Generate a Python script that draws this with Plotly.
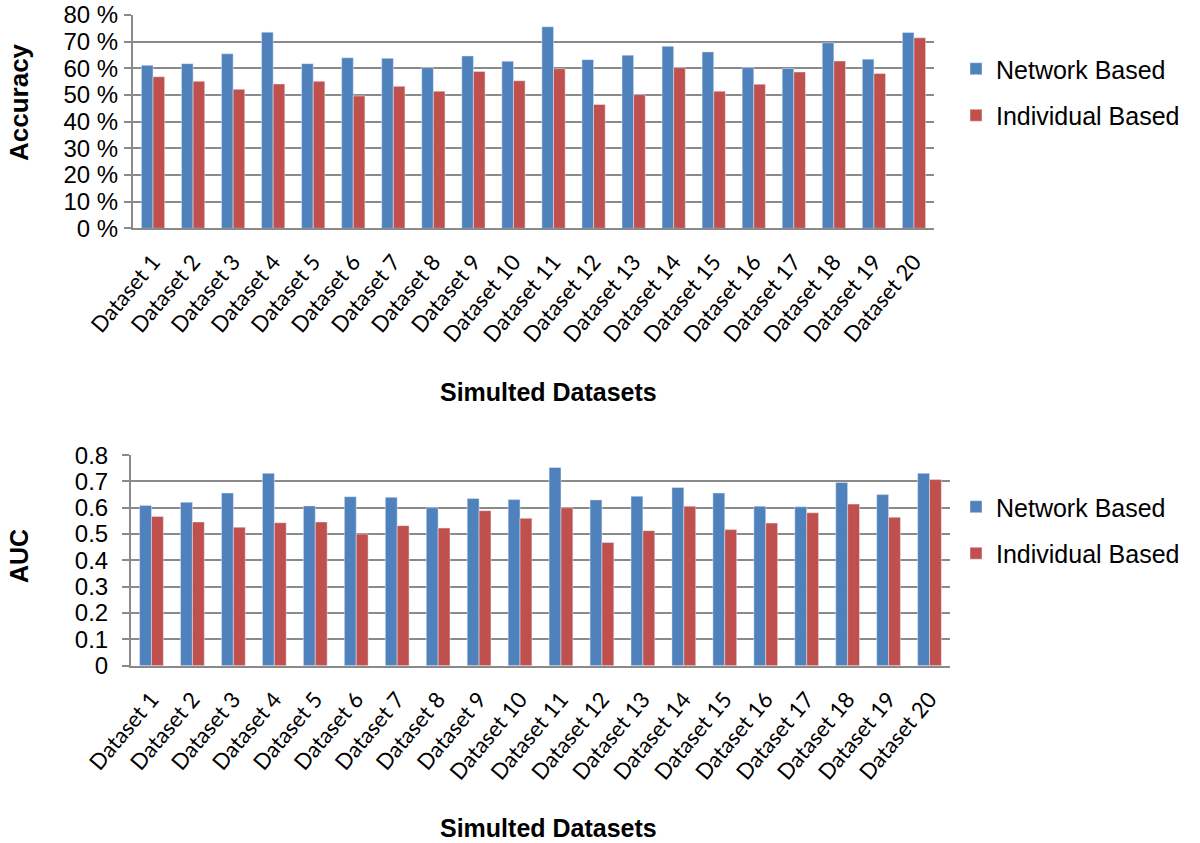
import plotly.graph_objects as go

W, H = 1200, 843

categories = [f"Dataset {i}" for i in range(1, 21)]

acc_network = [61.1, 61.7, 65.4, 73.5, 61.7, 63.9, 63.7, 60.2, 64.6, 62.6,
               75.5, 63.2, 64.9, 68.2, 66.1, 60.2, 59.9, 69.5, 63.4, 73.4]
acc_individual = [56.8, 55.1, 52.1, 54.1, 55.1, 49.6, 53.2, 51.4, 58.8, 55.3,
                  59.8, 46.4, 50.1, 60.2, 51.4, 54.0, 58.6, 62.7, 58.0, 71.4]

auc_network = [0.609, 0.621, 0.656, 0.731, 0.607, 0.642, 0.640, 0.600, 0.635, 0.631,
               0.753, 0.630, 0.644, 0.677, 0.656, 0.606, 0.604, 0.696, 0.650, 0.731]
auc_individual = [0.567, 0.546, 0.526, 0.543, 0.546, 0.500, 0.532, 0.523, 0.589, 0.560,
                  0.600, 0.468, 0.513, 0.606, 0.517, 0.542, 0.581, 0.614, 0.564, 0.707]

acc_ticks = [0, 10, 20, 30, 40, 50, 60, 70, 80]
acc_ticktext = ["0 %", "10 %", "20 %", "30 %", "40 %", "50 %", "60 %", "70 %", "80 %"]
auc_ticks = [0, 0.1, 0.2, 0.3, 0.4, 0.5, 0.6, 0.7, 0.8]
auc_ticktext = ["0", "0.1", "0.2", "0.3", "0.4", "0.5", "0.6", "0.7", "0.8"]

BLUE = "#4F81BD"
RED = "#C0504D"
GRID = "#8A8A8A"
SANS = "Liberation Sans, Arial, Helvetica, sans-serif"
TICKFONT = "Lato"

def px(x):
    return x / W

def py(y):
    return 1 - y / H

fig = go.Figure()

fig.add_trace(go.Bar(x=categories, y=acc_network, name="Network Based", marker_color=BLUE,
                     xaxis="x", yaxis="y", legend="legend", legendgroup="a1"))
fig.add_trace(go.Bar(x=categories, y=acc_individual, name="Individual Based", marker_color=RED,
                     xaxis="x", yaxis="y", legend="legend", legendgroup="a2"))
fig.add_trace(go.Bar(x=categories, y=auc_network, name="Network Based", marker_color=BLUE,
                     xaxis="x2", yaxis="y2", legend="legend2", legendgroup="b1"))
fig.add_trace(go.Bar(x=categories, y=auc_individual, name="Individual Based", marker_color=RED,
                     xaxis="x2", yaxis="y2", legend="legend2", legendgroup="b2"))

xcommon = dict(
    type="category", showgrid=False, showline=True, linecolor=GRID, linewidth=2,
    ticks="", tickangle=-50, automargin=False, ticklabelstandoff=10,
    tickfont=dict(family=TICKFONT, size=22, color="black"),
)
ycommon = dict(
    showgrid=True, gridcolor=GRID, gridwidth=2, showline=True, linecolor=GRID, linewidth=2,
    ticks="outside", ticklen=7, tickcolor=GRID, tickwidth=2, zeroline=False, automargin=False,
    ticklabeloverflow="allow",
    tickfont=dict(family=SANS, size=24, color="black"),
)

legcommon = dict(
    font=dict(family=SANS, size=25, color="black"), bgcolor="rgba(0,0,0,0)",
    tracegroupgap=11, xanchor="left", yanchor="top", itemwidth=30,
)

fig.update_layout(
    width=W, height=H,
    margin=dict(l=0, r=0, t=0, b=0, pad=0, autoexpand=False),
    paper_bgcolor="white", plot_bgcolor="white",
    barmode="group", bargap=0.42, bargroupgap=0,
    xaxis=dict(domain=[px(133), px(934)], anchor="y", **xcommon),
    yaxis=dict(domain=[py(228.3), py(14.7)], anchor="x", range=[0, 80.05],
               tickvals=acc_ticks, ticktext=acc_ticktext, ticklabelstandoff=1, **ycommon),
    xaxis2=dict(domain=[px(131), px(950)], anchor="y2", **xcommon),
    yaxis2=dict(domain=[py(665.7), py(455)], anchor="x2", range=[0, 0.8005],
                tickvals=auc_ticks, ticktext=auc_ticktext, ticklabelstandoff=9, **ycommon),
    legend=dict(x=px(956), y=py(46), **legcommon),
    legend2=dict(x=px(956), y=py(484), **legcommon),
    showlegend=True,
)

for text, x, y, angle, size in [
    ("<b>Accuracy</b>", 19, 102, -90, 26),
    ("<b>AUC</b>", 19, 556, -90, 25),
    ("<b>Simulted Datasets</b>", 548, 392, 0, 25),
    ("<b>Simulted Datasets</b>", 548, 828, 0, 25),
]:
    fig.add_annotation(text=text, x=px(x), y=py(y), xref="paper", yref="paper",
                       showarrow=False, textangle=angle,
                       font=dict(family=SANS, size=size, color="black"),
                       xanchor="center", yanchor="middle")

fig.write_html("out.html", config={"displayModeBar": False},
               post_script="document.body.style.margin='0px';")
